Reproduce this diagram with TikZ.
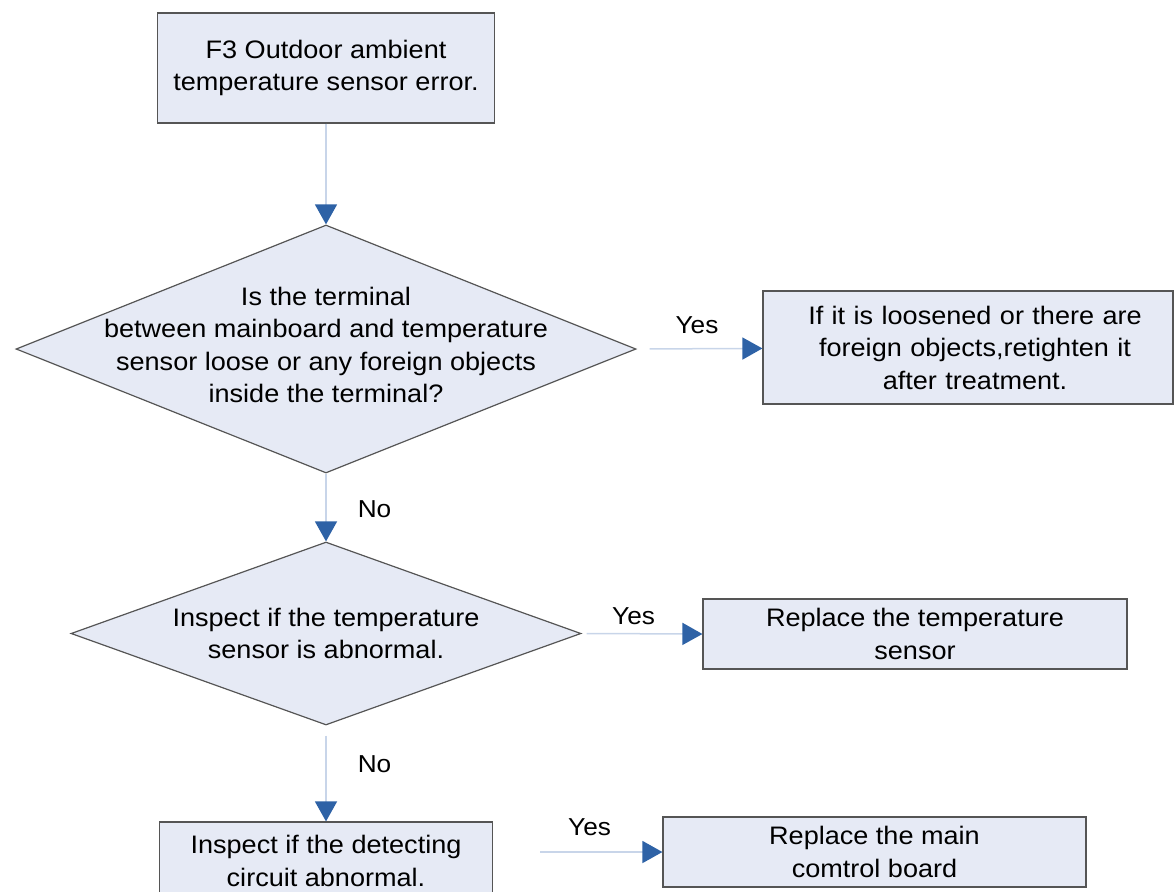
\documentclass[tikz,border=0pt]{standalone}
\usepackage{fontspec}
\setmainfont[FakeStretch=1.07]{Liberation Sans}
\usetikzlibrary{arrows.meta,shapes.geometric,positioning}
\definecolor{boxfill}{RGB}{230,234,245}
\definecolor{boxline}{RGB}{85,85,85}
\definecolor{linkline}{RGB}{200,213,233}
\definecolor{tipblue}{RGB}{46,98,166}

\begin{document}
\begin{tikzpicture}[x=1pt, y=-1pt,
    box/.style={draw=boxline, line width=1.2pt, fill=boxfill, align=center,
        inner sep=0pt, font=\fontsize{25.3}{32.5}\selectfont},
    decision/.style={diamond, draw=boxline, line width=1.2pt, fill=boxfill, inner sep=0pt},
    txt/.style={align=center, inner sep=0pt, font=\fontsize{25.3}{32.5}\selectfont},
    link/.style={draw=linkline, line width=1.5pt,
        -{Triangle[width=22pt,length=20pt,color=tipblue]}},
    lbl/.style={inner sep=0pt, font=\fontsize{24.5}{30}\selectfont}]
    \useasboundingbox (0,0) rectangle (1174,891);

    % Error code
    \node[box, minimum width=337pt, minimum height=110pt] (err) at (326,68)
        {F3 Outdoor ambient\\temperature sensor error.};

    % First check: terminal
    \node[decision, minimum width=620pt, minimum height=248pt] (term) at (326,349) {};
    \node[txt] (termtxt) at ([yshift=4pt]term) {Is the terminal\\between mainboard and temperature\\
        sensor loose or any foreign objects\\inside the terminal?};
    \node[box, minimum width=410pt, minimum height=113pt, text width=410pt] (fix) at (968,347.5)
        {\hspace*{14pt}If it is loosened or there are\\\hspace*{14pt}foreign objects,retighten it\\\hspace*{14pt}after treatment.};

    % Second check: sensor
    \node[decision, minimum width=510pt, minimum height=183pt] (sens) at (326,633.5) {};
    \node[txt] (senstxt) at (sens) {Inspect if the temperature\\sensor is abnormal.};
    \node[box, minimum width=424pt, minimum height=70pt] (newsens) at (915,634)
        {Replace the temperature\\sensor};

    % Third check: detecting circuit
    \node[box, minimum width=333pt, minimum height=78pt] (circ) at (326,861)
        {Inspect if the detecting\\circuit abnormal.};
    \node[box, minimum width=423pt, minimum height=70pt] (board) at (874.5,852)
        {Replace the main\\comtrol board};

    % Connectors
    \draw[link] (err) -- (term);
    \draw[link, shorten <=13pt] (term.east) -- node[lbl, above=14.5pt, pos=0.48] (y1) {Yes} (fix);
    \draw[link] (term.south) -- node[lbl, right=31pt, pos=0.52] (n1) {No} (sens.north);
    \draw[link, shorten <=5pt] (sens.east) -- node[lbl, above=8.5pt, pos=0.43] (y2) {Yes} (newsens.west);
    \draw[link, shorten <=10pt] (sens.south) -- node[lbl, right=31pt, pos=0.4] (n2) {No} (circ.north);
    \draw[link, shorten <=47pt] (circ.east |- board.west) -- node[lbl, above=15.5pt, pos=0.57] (y3) {Yes} (board.west);
\end{tikzpicture}
\end{document}
